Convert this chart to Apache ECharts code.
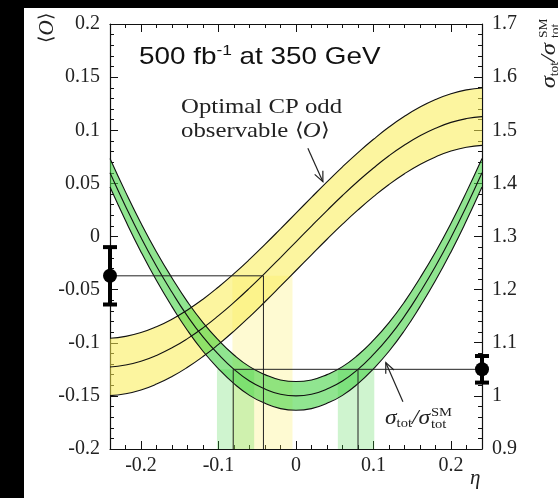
<!DOCTYPE html>
<html><head><meta charset="utf-8">
<script src="https://cdn.jsdelivr.net/npm/echarts@6/dist/echarts.min.js"></script>
<style>
html,body{margin:0;padding:0;background:#000;width:558px;height:498px;overflow:hidden;}
#panel{position:absolute;left:24px;top:8px;width:534px;height:490px;background:#fff;}
#chart{position:absolute;left:0;top:0;width:558px;height:498px;}
</style></head><body>
<div id="panel"></div><div id="chart"></div>
<script>
// ---- data ----
const eta = [-0.24,-0.22,-0.2,-0.18,-0.16,-0.14,-0.12,-0.1,-0.08,-0.06,-0.04,-0.02,0,0.02,0.04,0.06,0.08,0.1,0.12,0.14,0.16,0.18,0.2,0.22,0.24];
// optimal CP-odd observable <O> (left axis)
const obsMid = [-0.1228,-0.1210,-0.1174,-0.1119,-0.1048,-0.0961,-0.0860,-0.0745,-0.0620,-0.0486,-0.0344,-0.0198,-0.0050,0.0098,0.0244,0.0386,0.0520,0.0645,0.0760,0.0861,0.0948,0.1019,0.1074,0.1110,0.1128];
const obsHi  = [-0.0958,-0.0940,-0.0904,-0.0849,-0.0778,-0.0691,-0.0590,-0.0475,-0.0350,-0.0216,-0.0074,0.0072,0.0220,0.0368,0.0514,0.0656,0.0790,0.0915,0.1030,0.1131,0.1218,0.1289,0.1344,0.1380,0.1398];
const obsLo  = [-0.1498,-0.1480,-0.1444,-0.1389,-0.1318,-0.1231,-0.1130,-0.1015,-0.0890,-0.0756,-0.0614,-0.0468,-0.0320,-0.0172,-0.0026,0.0116,0.0250,0.0375,0.0490,0.0591,0.0678,0.0749,0.0804,0.0840,0.0858];
// sigma_tot / sigma_tot^SM (right axis)
const xsMid = [1.420,1.357,1.298,1.244,1.195,1.150,1.111,1.078,1.050,1.028,1.013,1.003,1.000,1.003,1.013,1.028,1.050,1.078,1.111,1.150,1.195,1.244,1.298,1.357,1.420];
const xsHi  = [1.447,1.384,1.325,1.271,1.222,1.177,1.138,1.105,1.077,1.055,1.040,1.030,1.027,1.030,1.040,1.055,1.077,1.105,1.138,1.177,1.222,1.271,1.325,1.384,1.447];
const xsLo  = [1.393,1.330,1.271,1.217,1.168,1.123,1.084,1.051,1.023,1.001,0.986,0.976,0.973,0.976,0.986,1.001,1.023,1.051,1.084,1.123,1.168,1.217,1.271,1.330,1.393];
// measurements: [eta, value, error]
const obsPoint = [-0.24, -0.037, 0.027];
const xsPoint  = [0.24, 1.05, 0.025];
// allowed eta ranges: [from, to, top]
const obsRanges = [[-0.082, -0.0045, -0.037]];
const xsRanges  = [[-0.102, -0.054, 1.05], [0.054, 0.101, 1.05]];
// guide lines
const obsGuide = [[-0.24, -0.037], [-0.042, -0.037], [-0.042, -0.2]];
const xsGuideA = [[0.24, 1.05], [-0.081, 1.05], [-0.081, 0.9]];
const xsGuideB = [[0.080, 1.05], [0.080, 0.9]];
// axes
const etaTicks = [-0.2, -0.1, 0, 0.1, 0.2];
const etaRange = [-0.24, 0.24];
const obsRange = [-0.2, 0.2];
const xsRange  = [0.9, 1.7];
// annotation arrows [x0,y0,x1,y1]
const obsArrow = [[0.0153, 0.083, 0.0347, 0.0516]];
const xsArrow  = [[0.138, 0.989, 0.1159, 1.0625]];

// ---- chart ----
const serif = 'Liberation Serif';
const sans = 'Liberation Sans';
const YEL = 'rgba(250,236,80,0.55)';
const GRN = 'rgba(70,212,70,0.6)';
const YELc = 'rgba(250,236,80,0.26)';
const GRNc = 'rgba(70,212,70,0.26)';

const pairs = (xs, ys) => xs.map((x, i) => [x, ys[i]]);

function bandRender(xs, hi, lo) {
  return function (params, api) {
    if (params.dataIndex !== 0) return null;
    const pts = [];
    for (let i = 0; i < xs.length; i++) pts.push(api.coord([xs[i], hi[i]]));
    for (let i = xs.length - 1; i >= 0; i--) pts.push(api.coord([xs[i], lo[i]]));
    return {type: 'polygon', shape: {points: pts}, style: {fill: api.visual('color')}};
  };
}
function colRender(params, api) {
  const p0 = api.coord([api.value(0), api.value(2)]);
  const p1 = api.coord([api.value(1), api.value(3)]);
  return {type: 'rect', shape: {x: p0[0], y: p0[1], width: p1[0] - p0[0], height: p1[1] - p0[1]},
          style: {fill: api.visual('color')}};
}
function errRender(params, api) {
  const x = api.value(0), y = api.value(1), e = api.value(2);
  const c = api.coord([x, y]), lo = api.coord([x, y - e]), hi = api.coord([x, y + e]);
  const st = {stroke: '#000', lineWidth: 4};
  return {type: 'group', children: [
    {type: 'line', shape: {x1: c[0], y1: hi[1], x2: c[0], y2: lo[1]}, style: st},
    {type: 'line', shape: {x1: c[0] - 7, y1: hi[1], x2: c[0] + 7, y2: hi[1]}, style: st},
    {type: 'line', shape: {x1: c[0] - 7, y1: lo[1], x2: c[0] + 7, y2: lo[1]}, style: st},
    {type: 'circle', shape: {cx: c[0], cy: c[1], r: 7}, style: {fill: '#000'}}
  ]};
}
function arrowRender(params, api) {
  const a = api.coord([api.value(0), api.value(1)]);
  const b = api.coord([api.value(2), api.value(3)]);
  const ang = Math.atan2(b[1] - a[1], b[0] - a[0]);
  const L = 11, w = 0.42;
  const h1 = [b[0] - L * Math.cos(ang - w), b[1] - L * Math.sin(ang - w)];
  const h2 = [b[0] - L * Math.cos(ang + w), b[1] - L * Math.sin(ang + w)];
  const st = {stroke: '#222', lineWidth: 1.2, fill: 'none'};
  return {type: 'group', children: [
    {type: 'line', shape: {x1: a[0], y1: a[1], x2: b[0], y2: b[1]}, style: st},
    {type: 'polyline', shape: {points: [h1, b, h2]}, style: st}
  ]};
}

const lineBase = {type: 'line', smooth: true, showSymbol: false, symbol: 'none', silent: true};
const blk = {color: '#111', width: 1.1};

function xAx(position, major) {
  const o = {type: 'value', position, min: etaRange[0], max: etaRange[1],
    splitLine: {show: false}, axisPointer: {show: false}};
  if (major) {
    o.axisLine = {show: true, onZero: false, lineStyle: {color: '#111', width: 1.2}};
    o.axisTick = {show: true, inside: true, length: 8, customValues: etaTicks, lineStyle: {color: '#111'}};
    o.axisLabel = position === 'bottom'
      ? {show: true, customValues: etaTicks, margin: 7, fontFamily: serif, fontSize: 20, color: '#222'}
      : {show: false};
  } else {
    o.interval = 0.02;
    o.axisLine = {show: false, onZero: false};
    o.axisTick = {show: true, inside: true, length: 4, lineStyle: {color: '#111'}};
    o.axisLabel = {show: false};
  }
  return o;
}
function yAx(position, range, interval) {
  return {type: 'value', position, min: range[0], max: range[1], interval,
    axisLine: {show: true, onZero: false, lineStyle: {color: '#111', width: 1.2}},
    axisTick: {show: true, inside: true, length: 8, lineStyle: {color: '#111'}},
    minorTick: {show: true, splitNumber: 5, length: 4, lineStyle: {color: '#111'}},
    axisLabel: {margin: 10, fontFamily: serif, fontSize: 20, color: '#222'},
    splitLine: {show: false}};
}

const chart = echarts.init(document.getElementById('chart'), null, {renderer: 'canvas'});
chart.setOption({
  backgroundColor: 'transparent',
  animation: false,
  grid: {left: 110, right: 76, top: 24, bottom: 49},
  xAxis: [xAx('bottom', true), xAx('bottom', false), xAx('top', true), xAx('top', false)],
  yAxis: [yAx('left', obsRange, 0.05), yAx('right', xsRange, 0.1)],
  series: [
    {type: 'custom', xAxisIndex: 0, yAxisIndex: 0, renderItem: colRender, itemStyle: {color: YELc},
     data: obsRanges.map(r => [r[0], r[1], r[2], obsRange[0]]), encode: {x: [0, 1], y: [2, 3]}, silent: true},
    {type: 'custom', xAxisIndex: 0, yAxisIndex: 1, renderItem: colRender, itemStyle: {color: GRNc},
     data: xsRanges.map(r => [r[0], r[1], r[2], xsRange[0]]), encode: {x: [0, 1], y: [2, 3]}, silent: true},
    // yellow band
    {type: 'custom', yAxisIndex: 0, renderItem: bandRender(eta, obsHi, obsLo), itemStyle: {color: YEL},
     data: pairs(eta, obsMid), encode: {x: 0, y: 1}, silent: true},
    Object.assign({}, lineBase, {yAxisIndex: 0, lineStyle: blk, data: pairs(eta, obsHi)}),
    Object.assign({}, lineBase, {yAxisIndex: 0, lineStyle: blk, data: pairs(eta, obsMid)}),
    Object.assign({}, lineBase, {yAxisIndex: 0, lineStyle: blk, data: pairs(eta, obsLo)}),
    // green band
    {type: 'custom', yAxisIndex: 1, renderItem: bandRender(eta, xsHi, xsLo), itemStyle: {color: GRN},
     data: pairs(eta, xsMid), encode: {x: 0, y: 1}, silent: true},
    Object.assign({}, lineBase, {yAxisIndex: 1, lineStyle: blk, data: pairs(eta, xsHi)}),
    Object.assign({}, lineBase, {yAxisIndex: 1, lineStyle: blk, data: pairs(eta, xsMid)}),
    Object.assign({}, lineBase, {yAxisIndex: 1, lineStyle: blk, data: pairs(eta, xsLo)}),
    // guides
    Object.assign({}, lineBase, {smooth: false, yAxisIndex: 0, lineStyle: {color: '#222', width: 1}, data: obsGuide}),
    Object.assign({}, lineBase, {smooth: false, yAxisIndex: 1, lineStyle: {color: '#222', width: 1}, data: xsGuideA}),
    Object.assign({}, lineBase, {smooth: false, yAxisIndex: 1, lineStyle: {color: '#222', width: 1}, data: xsGuideB}),
    // measurements
    {type: 'custom', yAxisIndex: 0, renderItem: errRender, data: [obsPoint], encode: {x: 0, y: 1}, clip: false, silent: true, z: 5},
    {type: 'custom', yAxisIndex: 1, renderItem: errRender, data: [xsPoint], encode: {x: 0, y: 1}, clip: false, silent: true, z: 5},
    // arrows
    {type: 'custom', yAxisIndex: 0, renderItem: arrowRender, data: obsArrow, encode: {x: [0, 2], y: [1, 3]}, silent: true},
    {type: 'custom', yAxisIndex: 1, renderItem: arrowRender, data: xsArrow, encode: {x: [0, 2], y: [1, 3]}, silent: true}
  ],
  graphic: [
    {type: 'group', x: 139, y: 43, scaleX: 1.16, children: [
      {type: 'text', x: 0, y: 0, style: {
        text: '500 fb{sup|-1} at 350 GeV', fontFamily: sans, fontSize: 24, fill: '#111', lineHeight: 28,
        rich: {sup: {fontFamily: sans, fontSize: 15, lineHeight: 15, verticalAlign: 'top', fill: '#111'}}}}
    ]},
    {type: 'group', x: 181, y: 95, scaleX: 1.18, children: [
      {type: 'text', x: 0, y: 0, style: {
        text: '{t|Optimal CP odd}\n{t|observable }{n|\u27E8}{i|O}{n|\u27E9}', align: 'left', fill: '#222',
        rich: {t: {fontFamily: serif, fontSize: 21, fill: '#222', lineHeight: 24},
               n: {fontFamily: serif, fontSize: 19, fill: '#222', lineHeight: 24},
               i: {fontFamily: serif, fontStyle: 'italic', fontSize: 21, fill: '#222', lineHeight: 24}}}}
    ]},
    // sigma label near the green band
    {type: 'group', x: 385, y: 418, scaleX: 1.12, children: [
      {type: 'text', x: 0, y: 0, style: {
        text: '{g|\u03C3}{s|tot}{g|/\u03C3}', verticalAlign: 'middle', fill: '#222',
        rich: {g: {fontFamily: serif, fontStyle: 'italic', fontSize: 21, fill: '#222', lineHeight: 24},
               s: {fontFamily: serif, fontSize: 13, fill: '#222', verticalAlign: 'bottom', lineHeight: 19}}}},
      {type: 'text', x: 41, y: 1, style: {text: 'SM\ntot', fontFamily: serif, fontSize: 13, lineHeight: 12,
        verticalAlign: 'middle', fill: '#222'}}
    ]},
    // eta label
    {type: 'text', x: 470, y: 468, style: {text: '\u03B7', fontFamily: serif, fontStyle: 'italic', fontSize: 21, fill: '#222'}},
    // left axis title
    {type: 'group', x: 47, y: 28, rotation: Math.PI / 2, children: [
      {type: 'text', style: {text: '{n|\u27E8}{i|O}{n|\u27E9}', align: 'center', verticalAlign: 'middle',
        rich: {n: {fontFamily: serif, fontSize: 19, fill: '#222'}, i: {fontFamily: serif, fontStyle: 'italic', fontSize: 21, fill: '#222'}}}}
    ]},
    // right axis title
    {type: 'group', x: 549, y: 48, rotation: Math.PI / 2, scaleX: 1.12, children: [
      {type: 'text', x: -36, y: 0, style: {
        text: '{g|\u03C3}{s|tot}{g|/\u03C3}', verticalAlign: 'middle', fill: '#222',
        rich: {g: {fontFamily: serif, fontStyle: 'italic', fontSize: 22, fill: '#222', lineHeight: 24},
               s: {fontFamily: serif, fontSize: 12, fill: '#222', verticalAlign: 'bottom', lineHeight: 18}}}},
      {type: 'text', x: 9, y: 1, style: {text: 'SM\ntot', fontFamily: serif, fontSize: 12, lineHeight: 12,
        verticalAlign: 'middle', fill: '#222'}}
    ]}
  ]
});
</script>
</body></html>
